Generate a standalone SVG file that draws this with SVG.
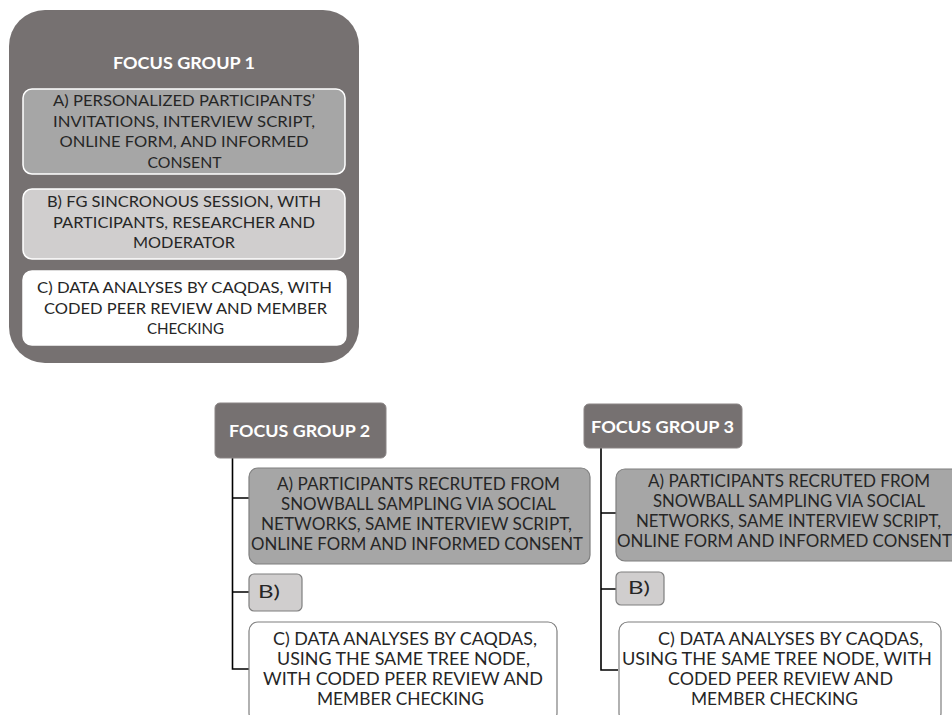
<svg xmlns="http://www.w3.org/2000/svg" width="952" height="715" viewBox="0 0 952 715">
  <style>
    .t { font-family: Lato, "Open Sans", "Liberation Sans", sans-serif; font-size: 16.5px; fill: #262626; text-anchor: middle; }
    #fg1-a .t, #fg1-b .t, #fg1-c .t { font-size: 15.5px; }
    .h { font-family: Lato, "Open Sans", "Liberation Sans", sans-serif; font-size: 17.5px; font-weight: bold; fill: #ffffff; text-anchor: middle; }
    .outer { fill: #767171; }
    .head { fill: #767171; stroke: #8a8585; stroke-width: 1; }
    .a1 { fill: #a6a6a6; stroke: #ffffff; stroke-width: 1.5; }
    .b1 { fill: #d0cece; stroke: #ffffff; stroke-width: 1.5; }
    .c1 { fill: #ffffff; stroke: #ffffff; stroke-width: 1.5; }
    .a { fill: #a6a6a6; stroke: #7f7f7f; stroke-width: 1.2; }
    .b { fill: #d0cece; stroke: #7f7f7f; stroke-width: 1.2; }
    .c { fill: #ffffff; stroke: #7f7f7f; stroke-width: 1.2; }
    .link { fill: none; stroke: #000000; stroke-width: 1.6; }
  </style>

  <rect width="952" height="715" fill="#ffffff"/>

  <!-- Focus group 1: container with three stacked steps -->
  <g id="fg1">
    <rect class="outer" x="9" y="10" width="350" height="353" rx="36" ry="36"/>
    <text class="h" x="184" y="69" textLength="142" lengthAdjust="spacingAndGlyphs">FOCUS GROUP 1</text>
  </g>
  <g id="fg1-a">
    <rect class="a1" x="23" y="89" width="322" height="85" rx="9" ry="9"/>
    <text class="t" x="184" y="106" textLength="262" lengthAdjust="spacingAndGlyphs">A) PERSONALIZED PARTICIPANTS’</text>
    <text class="t" x="184" y="126.5" textLength="262" lengthAdjust="spacingAndGlyphs">INVITATIONS, INTERVIEW SCRIPT,</text>
    <text class="t" x="184" y="147" textLength="249" lengthAdjust="spacingAndGlyphs">ONLINE FORM, AND INFORMED</text>
    <text class="t" x="184.5" y="168" textLength="74" lengthAdjust="spacingAndGlyphs">CONSENT</text>
  </g>
  <g id="fg1-b">
    <rect class="b1" x="23" y="189" width="322" height="70" rx="9" ry="9"/>
    <text class="t" x="184" y="207" textLength="274" lengthAdjust="spacingAndGlyphs">B) FG SINCRONOUS SESSION, WITH</text>
    <text class="t" x="184" y="227.5" textLength="262" lengthAdjust="spacingAndGlyphs">PARTICIPANTS, RESEARCHER AND</text>
    <text class="t" x="184" y="248" textLength="102" lengthAdjust="spacingAndGlyphs">MODERATOR</text>
  </g>
  <g id="fg1-c">
    <rect class="c1" x="23" y="271" width="323" height="74" rx="9" ry="9"/>
    <text class="t" x="184.5" y="293" textLength="295" lengthAdjust="spacingAndGlyphs">C) DATA ANALYSES BY CAQDAS, WITH</text>
    <text class="t" x="185.5" y="313.5" textLength="283" lengthAdjust="spacingAndGlyphs">CODED PEER REVIEW AND MEMBER</text>
    <text class="t" x="185.5" y="334" textLength="77" lengthAdjust="spacingAndGlyphs">CHECKING</text>
  </g>

  <!-- Tree connectors for focus groups 2 and 3 -->
  <g id="connectors">
    <path class="link" d="M232.5 458 V669 H249 M232.5 498 H249 M232.5 592 H249"/>
    <path class="link" d="M601 448 V670 H618 M601 513 H616 M601 589 H616"/>
  </g>

  <!-- Focus group 2 -->
  <g id="fg2">
    <rect class="head" x="215" y="403" width="171" height="55" rx="5" ry="5"/>
    <text class="h" x="299.5" y="437" textLength="141" lengthAdjust="spacingAndGlyphs">FOCUS GROUP 2</text>
  </g>
  <g id="fg2-a">
    <rect class="a" x="249" y="468" width="341" height="96" rx="9" ry="9"/>
    <text class="t" x="418.5" y="490" textLength="283" lengthAdjust="spacingAndGlyphs">A) PARTICIPANTS RECRUTED FROM</text>
    <text class="t" x="418.5" y="510" textLength="275" lengthAdjust="spacingAndGlyphs">SNOWBALL SAMPLING VIA SOCIAL</text>
    <text class="t" x="416.5" y="530" textLength="311" lengthAdjust="spacingAndGlyphs">NETWORKS, SAME INTERVIEW SCRIPT,</text>
    <text class="t" x="417" y="550" textLength="332" lengthAdjust="spacingAndGlyphs">ONLINE FORM AND INFORMED CONSENT</text>
  </g>
  <g id="fg2-b">
    <rect class="b" x="249" y="574" width="53" height="37" rx="5" ry="5"/>
    <text class="t" x="269" y="598" textLength="22" lengthAdjust="spacingAndGlyphs">B)</text>
  </g>
  <g id="fg2-c">
    <rect class="c" x="249" y="622" width="308" height="100" rx="9" ry="9"/>
    <text class="t" x="405" y="645" textLength="264" lengthAdjust="spacingAndGlyphs">C) DATA ANALYSES BY CAQDAS,</text>
    <text class="t" x="403.5" y="665" textLength="253" lengthAdjust="spacingAndGlyphs">USING THE SAME TREE NODE,</text>
    <text class="t" x="403" y="685" textLength="280" lengthAdjust="spacingAndGlyphs">WITH CODED PEER REVIEW AND</text>
    <text class="t" x="400.5" y="705" textLength="167" lengthAdjust="spacingAndGlyphs">MEMBER CHECKING</text>
  </g>

  <!-- Focus group 3 -->
  <g id="fg3">
    <rect class="head" x="584" y="404" width="158" height="44" rx="5" ry="5"/>
    <text class="h" x="662.5" y="433" textLength="143" lengthAdjust="spacingAndGlyphs">FOCUS GROUP 3</text>
  </g>
  <g id="fg3-a">
    <rect class="a" x="616" y="469" width="350" height="92" rx="9" ry="9"/>
    <text class="t" x="789" y="487" textLength="282" lengthAdjust="spacingAndGlyphs">A) PARTICIPANTS RECRUTED FROM</text>
    <text class="t" x="789" y="507" textLength="272" lengthAdjust="spacingAndGlyphs">SNOWBALL SAMPLING VIA SOCIAL</text>
    <text class="t" x="788.5" y="527" textLength="305" lengthAdjust="spacingAndGlyphs">NETWORKS, SAME INTERVIEW SCRIPT,</text>
    <text class="t" x="784.5" y="546.5" textLength="335" lengthAdjust="spacingAndGlyphs">ONLINE FORM AND INFORMED CONSENT</text>
  </g>
  <g id="fg3-b">
    <rect class="b" x="616" y="572" width="48" height="33" rx="5" ry="5"/>
    <text class="t" x="639" y="594" textLength="22" lengthAdjust="spacingAndGlyphs">B)</text>
  </g>
  <g id="fg3-c">
    <rect class="c" x="619" y="622" width="322" height="100" rx="9" ry="9"/>
    <text class="t" x="790.5" y="645" textLength="265" lengthAdjust="spacingAndGlyphs">C) DATA ANALYSES BY CAQDAS,</text>
    <text class="t" x="777" y="665" textLength="310" lengthAdjust="spacingAndGlyphs">USING THE SAME TREE NODE, WITH</text>
    <text class="t" x="780.5" y="685" textLength="225" lengthAdjust="spacingAndGlyphs">CODED PEER REVIEW AND</text>
    <text class="t" x="774.5" y="705" textLength="167" lengthAdjust="spacingAndGlyphs">MEMBER CHECKING</text>
  </g>
</svg>
